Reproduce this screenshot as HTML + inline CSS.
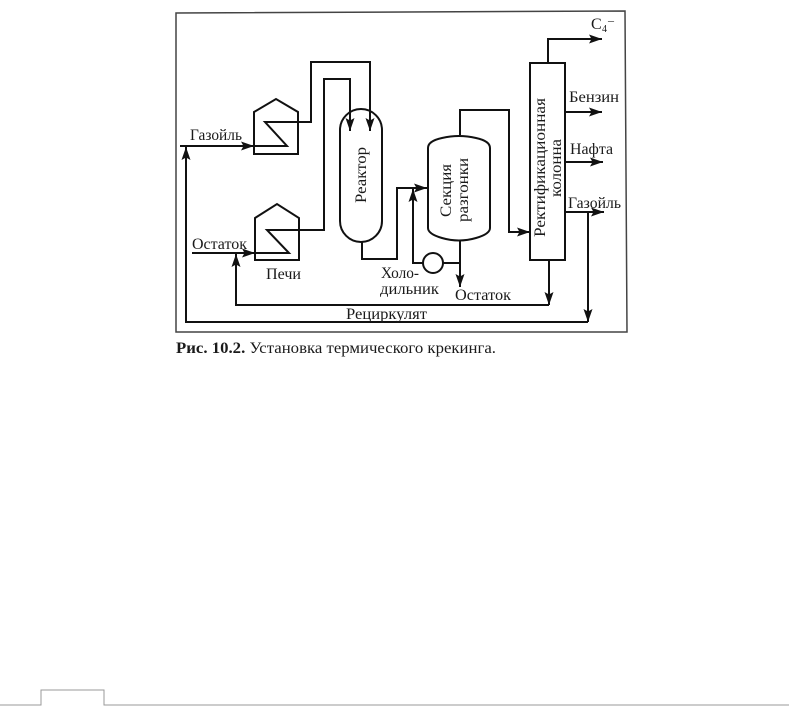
<!DOCTYPE html>
<html lang="ru"><head><meta charset="utf-8"><style>
html,body{margin:0;padding:0;background:#fff;width:789px;height:710px;overflow:hidden}
svg{display:block}
text{font-family:"Liberation Serif","DejaVu Serif",serif;font-size:16px;fill:#1a1a1a}
.l{fill:none;stroke:#111;stroke-width:2}
</style></head><body>
<svg width="789" height="710" viewBox="0 0 789 710" xmlns="http://www.w3.org/2000/svg">
<defs><marker id="a" viewBox="0 0 13 9" refX="13" refY="4.5" markerWidth="13" markerHeight="9" markerUnits="userSpaceOnUse" orient="auto"><path d="M0 0L13 4.5L0 9L2.5 4.5Z" fill="#111"/></marker></defs>
<path d="M176 332V13L625 11L627 332Z" fill="none" stroke="#444" stroke-width="1.5"/>
<path d="M0 705H41V690H104V705H789" fill="none" stroke="#999" stroke-width="1"/>
<!-- furnaces -->
<path class="l" d="M254 112L276 99L298 112V154H254Z"/>
<path class="l" d="M255 218L277 204L299 218V260H255Z"/>
<!-- reactor -->
<path class="l" d="M340 130A21 21 0 0 1 382 130V221A21 21 0 0 1 340 221Z"/>
<!-- drum -->
<path class="l" d="M428 148Q428 141 442 138Q459 134 476 138Q490 141 490 148V228Q490 234 476 238Q459 243 442 238Q428 234 428 228Z"/>
<!-- column -->
<rect class="l" x="530" y="63" width="35" height="197"/>
<!-- cooler -->
<circle class="l" cx="433" cy="263" r="10"/>
<!-- pipes -->
<path class="l" d="M180 146H287L265 122H311V62H370V131" marker-end="url(#a)"/>
<path class="l" d="M192 253H289L267 230H324V79H350V131" marker-end="url(#a)"/>
<path class="l" d="M180 146H254" marker-end="url(#a)"/>
<path class="l" d="M192 253H255" marker-end="url(#a)"/>
<path class="l" d="M362 242V259H397V188H427" marker-end="url(#a)"/>
<path class="l" d="M460 135V110H509V232H530" marker-end="url(#a)"/>
<path class="l" d="M548 63V39H602" marker-end="url(#a)"/>
<path class="l" d="M565 112H602" marker-end="url(#a)"/>
<path class="l" d="M565 162H603" marker-end="url(#a)"/>
<path class="l" d="M565 212H604" marker-end="url(#a)"/>
<path class="l" d="M588 212V322" marker-end="url(#a)"/>
<path class="l" d="M588 322H186V147" marker-end="url(#a)"/>
<path class="l" d="M549 260V305" marker-end="url(#a)"/>
<path class="l" d="M549 305H236V254" marker-end="url(#a)"/>
<path class="l" d="M460 241V287" marker-end="url(#a)"/>
<path class="l" d="M443 263H460"/>
<path class="l" d="M423 263H413V189" marker-end="url(#a)"/>
<!-- labels -->
<text x="190" y="140" textLength="52" lengthAdjust="spacingAndGlyphs">Газойль</text>
<text x="192" y="249" textLength="55" lengthAdjust="spacingAndGlyphs">Остаток</text>
<text x="266" y="279" textLength="35" lengthAdjust="spacingAndGlyphs">Печи</text>
<text x="381" y="278" textLength="38" lengthAdjust="spacingAndGlyphs">Холо-</text>
<text x="380" y="294" textLength="59" lengthAdjust="spacingAndGlyphs">дильник</text>
<text x="455" y="300" textLength="56" lengthAdjust="spacingAndGlyphs">Остаток</text>
<text x="346" y="319" textLength="81" lengthAdjust="spacingAndGlyphs">Рециркулят</text>
<text x="569" y="102" textLength="50" lengthAdjust="spacingAndGlyphs">Бензин</text>
<text x="570" y="154" textLength="43" lengthAdjust="spacingAndGlyphs">Нафта</text>
<text x="568" y="208" textLength="53" lengthAdjust="spacingAndGlyphs">Газойль</text>
<text x="591" y="29">C</text><text x="602" y="32" style="font-size:10px">4</text><text x="608" y="24" style="font-size:12px">–</text>
<text transform="translate(366 203) rotate(-90)" textLength="56" lengthAdjust="spacingAndGlyphs">Реактор</text>
<text transform="translate(451 217) rotate(-90)" textLength="53" lengthAdjust="spacingAndGlyphs">Секция</text>
<text transform="translate(468 222) rotate(-90)" textLength="64" lengthAdjust="spacingAndGlyphs">разгонки</text>
<text transform="translate(545 237) rotate(-90)" textLength="139" lengthAdjust="spacingAndGlyphs">Ректификационная</text>
<text transform="translate(561 197) rotate(-90)" textLength="58" lengthAdjust="spacingAndGlyphs">колонна</text>
<text x="176" y="353" textLength="320" lengthAdjust="spacingAndGlyphs"><tspan font-weight="bold">Рис. 10.2.</tspan> Установка термического крекинга.</text>
</svg>
</body></html>
